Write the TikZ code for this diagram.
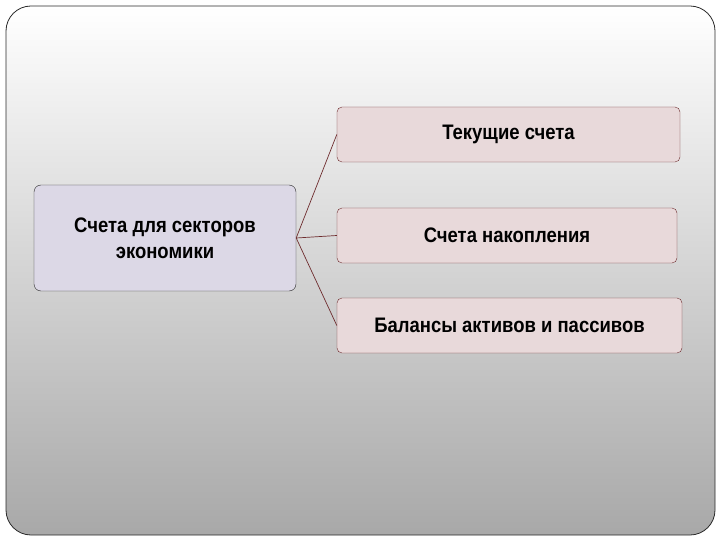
\documentclass[tikz,border=0pt]{standalone}
\usepackage{fontspec}
\setmainfont{Liberation Sans}[FakeStretch=0.88]
\definecolor{framegray}{HTML}{2A2A2A}
\definecolor{sectorfill}{HTML}{DCD8E6}
\definecolor{accountfill}{HTML}{E8D9DA}
\definecolor{accountline}{HTML}{6E2C2E}

\tikzset{
    sector/.style={draw=framegray, fill=sectorfill, rounded corners=7pt,
        minimum width=262pt, minimum height=106pt, align=center,
        font=\fontsize{21}{26}\selectfont\bfseries},
    account/.style={draw=accountline, fill=accountfill, rounded corners=5pt,
        minimum height=55pt, align=center,
        font=\fontsize{21}{24}\selectfont\bfseries},
    link/.style={draw=accountline, line width=0.7pt}
}

\begin{document}
\begin{tikzpicture}[x=1pt, y=-1pt]
\useasboundingbox (0,0) rectangle (720,540);
% slide background
\draw[framegray, line width=0.8pt, rounded corners=25pt,
    top color=white, middle color=black!7, bottom color=black!34]
    (6,6) rectangle (715,535);

\node[sector] (sectors) at (165,238) {Счета для секторов\\экономики};
\node[account, minimum width=343pt] (current) at (508.5,134.5) {Текущие счета};
\node[account, minimum width=340pt] (capital) at (507,235.5) {Счета накопления};
\node[account, minimum width=345pt] (balance) at (509.5,325.5) {Балансы активов и пассивов};

\draw[link] (sectors.east) -- (current.west);
\draw[link] (sectors.east) -- (capital.west);
\draw[link] (sectors.east) -- (balance.west);
\end{tikzpicture}
\end{document}
